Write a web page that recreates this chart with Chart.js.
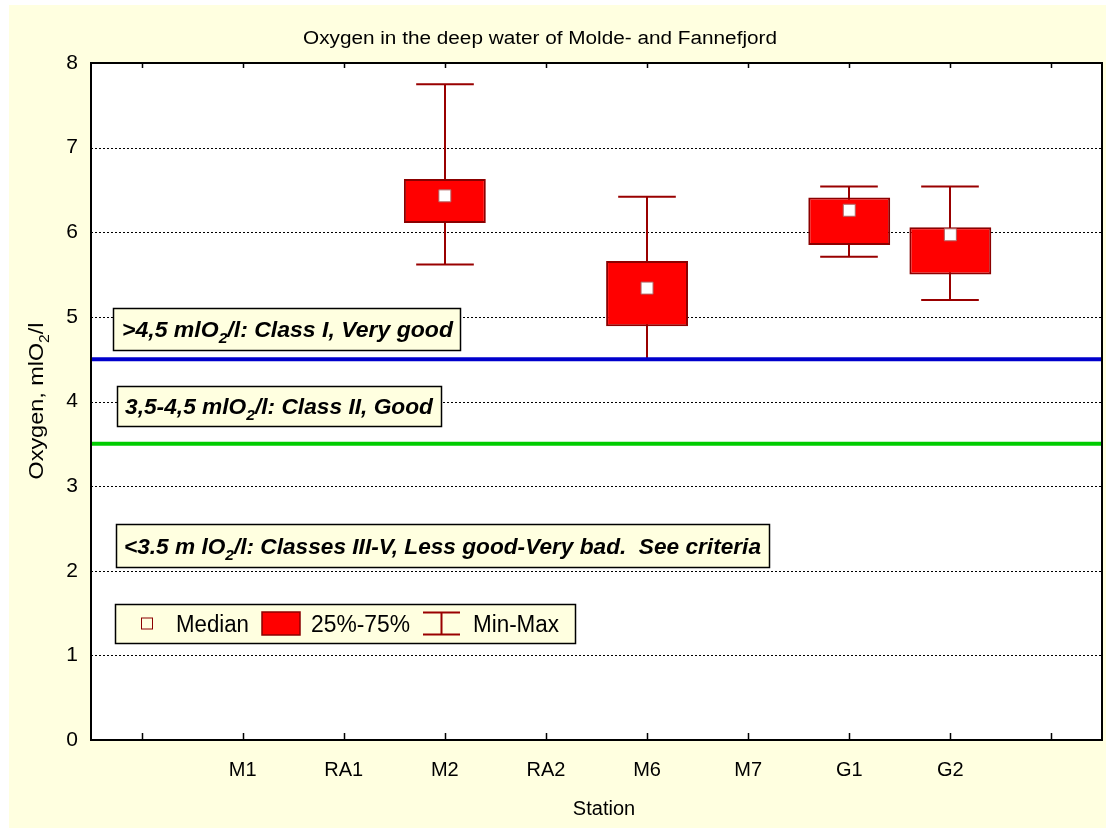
<!DOCTYPE html>
<html><head><meta charset="utf-8">
<script src="https://cdn.jsdelivr.net/npm/chart.js@4.4.1/dist/chart.umd.min.js"></script>
<style>html,body{margin:0;padding:0;background:#fff;overflow:hidden}#wrap{width:1106px;height:828px;position:relative}</style>
</head><body><div id="wrap"><canvas id="c" width="1106" height="828"></canvas></div>
<script>
// ---- data ----
const stations   = ['', 'M1', 'RA1', 'M2', 'RA2', 'M6', 'M7', 'G1', 'G2', ''];
const minVals    = [null, null, null, 5.62, null, 4.50, null, 5.71, 5.20, null];
const q1Vals     = [null, null, null, 6.11, null, 4.89, null, 5.85, 5.50, null];
const medianVals = [null, null, null, 6.43, null, 5.34, null, 6.26, 5.97, null];
const q3Vals     = [null, null, null, 6.63, null, 5.66, null, 6.41, 6.06, null];
const maxVals    = [null, null, null, 7.75, null, 6.42, null, 6.54, 6.54, null];
const yTickValues = [0, 1, 2, 3, 4, 5, 6, 7, 8];
const classLimits = [4.5, 3.5];
const classColors = ['#0000CC', '#00CC00'];
const titleText = 'Oxygen in the deep water of Molde- and Fannefjord';
const xTitle = 'Station';
const yTitleSegs = [['Oxygen, mlO', 0], ['2', 1], ['/l', 0]];
const classNotes = [
  [['>4,5 mlO', 0], ['2', 1], ['/l: Class I, Very good', 0]],
  [['3,5-4,5 mlO', 0], ['2', 1], ['/l: Class II, Good', 0]],
  [['<3.5 m lO', 0], ['2', 1], ['/l: Classes III-V, Less good-Very bad.  See criteria', 0]]
];
const legendLabels = ['Median', '25%-75%', 'Min-Max'];

const YEL = '#FFFFE0';
const DARKRED = '#8B0000';
const WHISK = '#990000';
const FONT = '"Liberation Sans", Arial, sans-serif';

function drawSegs(ctx, segs, x, y, targetW, size, style, align) {
  ctx.save();
  const f = (sub) => `${style} ${sub ? Math.round(size * 0.68) : size}px ${FONT}`;
  let w = 0;
  for (const [t, sub] of segs) { ctx.font = f(sub); w += ctx.measureText(t).width; }
  const sx = targetW ? targetW / w : 1;
  ctx.translate(x, y);
  ctx.scale(sx, 1);
  let cx = align === 'center' ? -w / 2 : (align === 'right' ? -w : 0);
  ctx.textBaseline = 'alphabetic';
  ctx.textAlign = 'left';
  ctx.fillStyle = '#000';
  for (const [t, sub] of segs) {
    ctx.font = f(sub);
    ctx.fillText(t, cx, sub ? size * 0.28 : 0);
    cx += ctx.measureText(t).width;
  }
  ctx.restore();
}

const decor = {
  id: 'decor',
  beforeDraw(chart) {
    const ctx = chart.ctx, a = chart.chartArea;
    ctx.save();
    ctx.fillStyle = '#fff';
    ctx.fillRect(0, 0, chart.width, chart.height);
    ctx.fillStyle = YEL;
    ctx.fillRect(9, 5, chart.width - 9, chart.height - 5);
    ctx.fillStyle = '#fff';
    ctx.fillRect(a.left, a.top, a.right - a.left, a.bottom - a.top);
    ctx.restore();
  },
  beforeDatasetsDraw(chart) {
    const ctx = chart.ctx, a = chart.chartArea, x = chart.scales.x, y = chart.scales.y;
    ctx.save();
    ctx.strokeStyle = '#000';
    ctx.lineWidth = 1;
    ctx.setLineDash([2, 2]);
    for (const v of yTickValues) {
      if (v === 0 || v === 8) continue;
      const py = Math.round(y.getPixelForValue(v)) + 0.5;
      ctx.beginPath(); ctx.moveTo(a.left, py); ctx.lineTo(a.right, py); ctx.stroke();
    }
    ctx.setLineDash([]);
    const catW = x.getPixelForValue(1) - x.getPixelForValue(0);
    ctx.strokeStyle = WHISK;
    ctx.lineWidth = 2;
    stations.forEach((s, i) => {
      if (minVals[i] == null) return;
      const px = Math.round(x.getPixelForValue(i));
      const y0 = y.getPixelForValue(minVals[i]), y1 = y.getPixelForValue(maxVals[i]);
      const hw = catW * 0.285;
      ctx.beginPath();
      ctx.moveTo(px, y0); ctx.lineTo(px, y1);
      ctx.moveTo(px - hw, y0); ctx.lineTo(px + hw, y0);
      ctx.moveTo(px - hw, y1); ctx.lineTo(px + hw, y1);
      ctx.stroke();
    });
    classLimits.forEach((v, i) => {
      const py = y.getPixelForValue(v);
      ctx.strokeStyle = classColors[i];
      ctx.lineWidth = 4;
      ctx.beginPath(); ctx.moveTo(a.left, py); ctx.lineTo(a.right, py); ctx.stroke();
    });
    ctx.restore();
  },
  afterDatasetsDraw(chart) {
    const ctx = chart.ctx, a = chart.chartArea, x = chart.scales.x;
    ctx.save();
    ctx.strokeStyle = '#000';
    ctx.lineWidth = 2;
    ctx.strokeRect(a.left, a.top, a.right - a.left, a.bottom - a.top);
    ctx.lineWidth = 1.5;
    stations.forEach((s, i) => {
      const px = Math.round(x.getPixelForValue(i)) + 0.5;
      ctx.beginPath();
      ctx.moveTo(px, a.bottom); ctx.lineTo(px, a.bottom - 7);
      ctx.moveTo(px, a.top); ctx.lineTo(px, a.top + 5);
      ctx.stroke();
    });
    const boxes = [
      {x: 113, y: 308, w: 347, h: 42, tx: 122, tw: 331},
      {x: 117, y: 386, w: 324, h: 40, tx: 125, tw: 308},
      {x: 116, y: 524, w: 653, h: 43, tx: 124, tw: 637}
    ];
    boxes.forEach((b, i) => {
      ctx.fillStyle = YEL;
      ctx.fillRect(b.x, b.y, b.w, b.h);
      ctx.strokeStyle = '#000';
      ctx.lineWidth = 1.5;
      ctx.strokeRect(b.x + 0.5, b.y + 0.5, b.w, b.h);
      drawSegs(ctx, classNotes[i], b.tx, b.y + b.h / 2 + 8, b.tw, 22, 'italic bold', 'left');
    });
    const L = {x: 115, y: 604, w: 460, h: 39};
    ctx.fillStyle = YEL;
    ctx.fillRect(L.x, L.y, L.w, L.h);
    ctx.strokeStyle = '#000';
    ctx.lineWidth = 1.5;
    ctx.strokeRect(L.x + 0.5, L.y + 0.5, L.w, L.h);
    const cy = L.y + L.h / 2;
    ctx.strokeStyle = DARKRED; ctx.lineWidth = 1;
    ctx.strokeRect(141.5, cy - 5.5, 11, 11);
    ctx.fillStyle = '#FF0000';
    ctx.fillRect(262, cy - 11.5, 38, 23);
    ctx.strokeStyle = DARKRED; ctx.lineWidth = 1.5;
    ctx.strokeRect(262, cy - 11.5, 38, 23);
    ctx.strokeStyle = WHISK; ctx.lineWidth = 2;
    ctx.beginPath();
    ctx.moveTo(423, cy - 11); ctx.lineTo(460, cy - 11);
    ctx.moveTo(423, cy + 11); ctx.lineTo(460, cy + 11);
    ctx.moveTo(441.5, cy - 11); ctx.lineTo(441.5, cy + 11);
    ctx.stroke();
    const lx = [176, 311, 473], lw = [73, 99, 86];
    legendLabels.forEach((t, i) => drawSegs(ctx, [[t, 0]], lx[i], cy + 8, lw[i], 23, 'normal', 'left'));
    drawSegs(ctx, [[titleText, 0]], 303, 44, 474, 18, 'normal', 'left');
    drawSegs(ctx, [[xTitle, 0]], 604, 815, null, 20, 'normal', 'center');
    ctx.save();
    ctx.translate(43, 401);
    ctx.rotate(-Math.PI / 2);
    drawSegs(ctx, yTitleSegs, 0, 0, 157, 21, 'normal', 'center');
    ctx.restore();
    ctx.restore();
  }
};

new Chart(document.getElementById('c'), {
  data: {
    labels: stations,
    datasets: [
      {
        type: 'bar',
        label: '25%-75%',
        data: q1Vals.map((v, i) => v == null ? null : [v, q3Vals[i]]),
        backgroundColor: '#FF0000',
        borderColor: DARKRED,
        borderWidth: 2,
        borderSkipped: false,
        barPercentage: 0.81,
        categoryPercentage: 1,
        order: 2
      },
      {
        type: 'line',
        label: 'Median',
        data: medianVals,
        showLine: false,
        pointStyle: 'rect',
        pointRadius: 8.5,
        pointBackgroundColor: '#FFFFFF',
        pointBorderColor: '#B06060',
        pointBorderWidth: 1,
        order: 1
      }
    ]
  },
  options: {
    responsive: false,
    animation: false,
    devicePixelRatio: 1,
    layout: {autoPadding: false, padding: {top: 63, right: 4, left: 0, bottom: 0}},
    plugins: {legend: {display: false}, tooltip: {enabled: false}, title: {display: false}},
    scales: {
      x: {
        type: 'category',
        offset: true,
        grid: {display: false, drawTicks: false},
        border: {display: false},
        ticks: {color: '#000', font: {size: 20, family: FONT}, padding: 18, maxRotation: 0, autoSkip: false},
        afterFit(s) { s.height = 88; s.paddingLeft = 0; s.paddingRight = 0; }
      },
      y: {
        min: 0, max: 8,
        afterBuildTicks(s) { s.ticks = yTickValues.map(v => ({value: v})); },
        grid: {display: false, drawTicks: false},
        border: {display: false},
        ticks: {color: '#000', font: {size: 21, family: FONT}, padding: 13},
        afterFit(s) { s.width = 91; s.paddingTop = 0; s.paddingBottom = 0; }
      }
    }
  },
  plugins: [decor]
});
</script>
</body></html>
